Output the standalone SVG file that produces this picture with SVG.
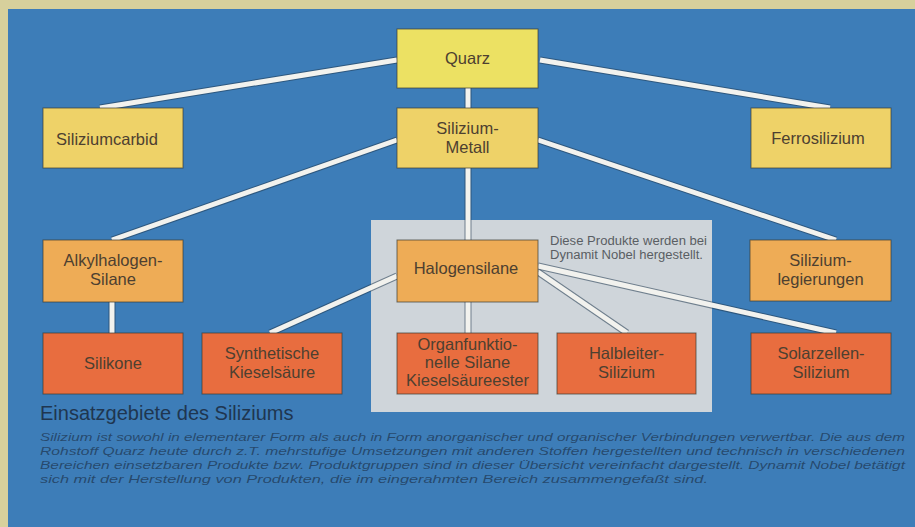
<svg xmlns="http://www.w3.org/2000/svg" width="915" height="527" viewBox="0 0 915 527">
<style>
.box{stroke:#3a3a30;stroke-width:1;stroke-opacity:0.7}
.y1{fill:#ece163}
.y2{fill:#eed268}
.o1{fill:#eeac56}
.r1{fill:#e86d3f}
.t{font-family:"Liberation Sans",Arial,sans-serif;font-size:16.5px;fill:#4d4030;text-anchor:middle}
.sh{stroke:#20384f;stroke-width:7;stroke-opacity:0.55;fill:none;stroke-linecap:butt}
.ln{stroke:#f2f2ee;stroke-width:5;fill:none;stroke-linecap:butt}
.note{font-family:"Liberation Sans",Arial,sans-serif;font-size:12px;fill:#5a5e63}
.h{font-family:"Liberation Sans",Arial,sans-serif;font-size:20px;fill:#1f3650}
.p{font-family:"Liberation Sans",Arial,sans-serif;font-size:11px;font-style:italic;fill:#23405f;fill-opacity:0.85}
</style>
<rect x="0" y="0" width="915" height="527" fill="#d7d09c"/>
<rect x="8" y="9" width="907" height="518" fill="#3d7db8"/>
<rect id="panel" x="371" y="220" width="341" height="192" fill="#cfd5da"/>

<g id="connectors">
<g class="sh">
<line x1="397" y1="60" x2="100" y2="108"/>
<line x1="540" y1="60" x2="830" y2="108"/>
<line x1="468" y1="88" x2="468" y2="108"/>
<line x1="397" y1="140" x2="112" y2="240"/>
<line x1="538" y1="140" x2="836" y2="240"/>
<line x1="468" y1="167" x2="468" y2="240"/>
<line x1="112" y1="302" x2="112" y2="333"/>
<line x1="397" y1="276" x2="270" y2="333"/>
<line x1="468" y1="302" x2="468" y2="333"/>
<line x1="538" y1="272" x2="627" y2="333"/>
<line x1="538" y1="266" x2="836" y2="333"/>
</g>
<g class="ln">
<line x1="397" y1="60" x2="100" y2="108"/>
<line x1="540" y1="60" x2="830" y2="108"/>
<line x1="468" y1="88" x2="468" y2="108"/>
<line x1="397" y1="140" x2="112" y2="240"/>
<line x1="538" y1="140" x2="836" y2="240"/>
<line x1="468" y1="167" x2="468" y2="240"/>
<line x1="112" y1="302" x2="112" y2="333"/>
<line x1="397" y1="276" x2="270" y2="333"/>
<line x1="468" y1="302" x2="468" y2="333"/>
<line x1="538" y1="272" x2="627" y2="333"/>
<line x1="538" y1="266" x2="836" y2="333"/>
</g>
</g>

<g id="quarz"><rect class="box y1" x="397" y="29" width="141" height="59"/><text class="t" x="467.5" y="64">Quarz</text></g>
<g id="siliziumcarbid"><rect class="box y2" x="43" y="108" width="140" height="60"/><text class="t" x="107" y="145">Siliziumcarbid</text></g>
<g id="silizium-metall"><rect class="box y2" x="397" y="108" width="141" height="60"/><text class="t" x="467.5" y="134">Silizium-</text><text class="t" x="467.5" y="153">Metall</text></g>
<g id="ferrosilizium"><rect class="box y2" x="751" y="108" width="140" height="60"/><text class="t" x="818" y="144">Ferrosilizium</text></g>
<g id="alkylhalogen"><rect class="box o1" x="43" y="240" width="140" height="62"/><text class="t" x="113" y="266">Alkylhalogen-</text><text class="t" x="113" y="285">Silane</text></g>
<g id="halogensilane"><rect class="box o1" x="397" y="240" width="141" height="62"/><text class="t" x="466" y="274">Halogensilane</text></g>
<g id="legierungen"><rect class="box o1" x="750" y="240" width="141" height="61"/><text class="t" x="820.5" y="266">Silizium-</text><text class="t" x="820.5" y="285">legierungen</text></g>
<g id="silikone"><rect class="box r1" x="43" y="333" width="140" height="61"/><text class="t" x="113" y="369">Silikone</text></g>
<g id="kieselsaeure"><rect class="box r1" x="202" y="333" width="140" height="61"/><text class="t" x="272" y="359">Synthetische</text><text class="t" x="272" y="378">Kieselsäure</text></g>
<g id="organfunktionelle"><rect class="box r1" x="397" y="333" width="141" height="61"/><text class="t" x="467.5" y="350">Organfunktio-</text><text class="t" x="467.5" y="368">nelle Silane</text><text class="t" x="467.5" y="386">Kieselsäureester</text></g>
<g id="halbleiter"><rect class="box r1" x="557" y="333" width="139" height="61"/><text class="t" x="626.5" y="359">Halbleiter-</text><text class="t" x="626.5" y="378">Silizium</text></g>
<g id="solarzellen"><rect class="box r1" x="751" y="333" width="140" height="61"/><text class="t" x="821" y="359">Solarzellen-</text><text class="t" x="821" y="378">Silizium</text></g>

<g id="note"><text class="note" x="550" y="245" textLength="157" lengthAdjust="spacingAndGlyphs">Diese Produkte werden bei</text><text class="note" x="550" y="259" textLength="153" lengthAdjust="spacingAndGlyphs">Dynamit Nobel hergestellt.</text></g>

<g id="caption">
<text class="h" x="40" y="420">Einsatzgebiete des Siliziums</text>
<text class="p" x="40" y="441" textLength="865" lengthAdjust="spacingAndGlyphs">Silizium ist sowohl in elementarer Form als auch in Form anorganischer und organischer Verbindungen verwertbar. Die aus dem</text>
<text class="p" x="40" y="455" textLength="865" lengthAdjust="spacingAndGlyphs">Rohstoff Quarz heute durch z.T. mehrstufige Umsetzungen mit anderen Stoffen hergestellten und technisch in verschiedenen</text>
<text class="p" x="40" y="469" textLength="865" lengthAdjust="spacingAndGlyphs">Bereichen einsetzbaren Produkte bzw. Produktgruppen sind in dieser Übersicht vereinfacht dargestellt. Dynamit Nobel betätigt</text>
<text class="p" x="40" y="483" textLength="668" lengthAdjust="spacingAndGlyphs">sich mit der Herstellung von Produkten, die im eingerahmten Bereich zusammengefaßt sind.</text>
</g>
</svg>
